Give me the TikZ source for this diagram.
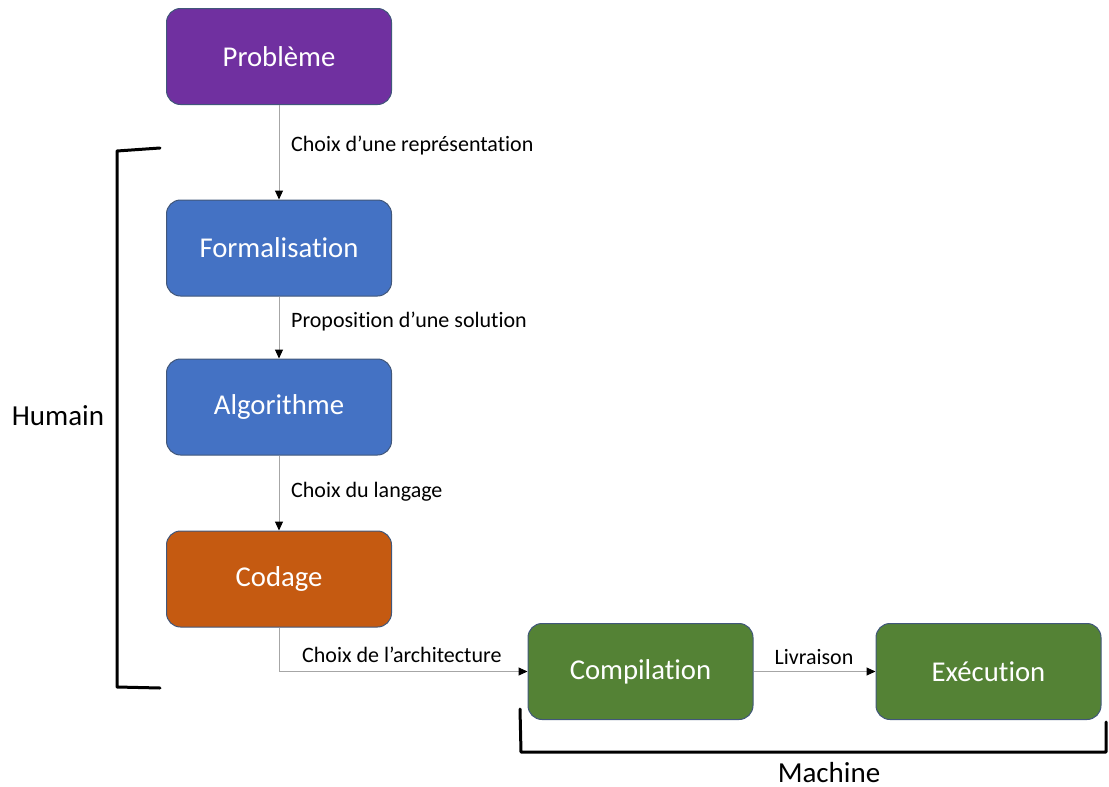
\documentclass[tikz,border=0pt]{standalone}
\usepackage{fontspec}
\setmainfont{Carlito}[RawFeature={-liga;-clig;-dlig}]
\usetikzlibrary{arrows.meta}
\definecolor{cpurple}{HTML}{7030A0}
\definecolor{cblue}{HTML}{4472C4}
\definecolor{corange}{HTML}{C55A11}
\definecolor{cgreen}{HTML}{548235}
\definecolor{boxline}{HTML}{41577A}
\definecolor{linegray}{HTML}{A6A6A6}
\begin{document}
\begin{tikzpicture}[x=1pt,y=-1pt,
  box/.style={draw=boxline, line width=1pt, rounded corners=14pt,
    minimum width=225pt, minimum height=96pt, inner sep=0pt,
    text=white, font=\fontsize{28.7}{34}\selectfont},
  conn/.style={draw=linegray, line width=1pt,
    -{Triangle[black,length=9pt,width=8pt]}},
  lbl/.style={font=\fontsize{22}{26}\selectfont, text=black, inner sep=0pt},
  brack/.style={line width=3pt, line join=round, line cap=round},
  side/.style={font=\fontsize{29}{34}\selectfont, inner sep=0pt, anchor=base}
]
\useasboundingbox (0,0) rectangle (1109,787);

\node[box, fill=cpurple] (pb) at (279,56.5) {Problème};
\node[box, fill=cblue] (fo) at (279,248) {Formalisation};
\node[box, fill=cblue] (al) at (279,407) {Algorithme};
\node[box, fill=corange] (co) at (279,579) {Codage};
\node[box, fill=cgreen] (cp) at (640.5,671.5) {Compilation};
\node[box, fill=cgreen] (ex) at (988.5,671.5) {Exécution};

\draw[conn] (pb) -- (fo);
\draw[conn] (fo) -- (al);
\draw[conn] (al) -- (co);
\draw[conn] (co) |- (cp);
\draw[conn] (cp) -- (ex);

\node[lbl, anchor=west] (l1) at (291,146) {Choix d’une représentation};
\node[lbl, anchor=west] (l2) at (291,322) {Proposition d’une solution};
\node[lbl, anchor=west] (l3) at (291,492) {Choix du langage};
\node[lbl, anchor=west] (l4) at (302,655) {Choix de l’architecture};
\node[lbl] (l5) at (814,657) {Livraison};

\coordinate (h1) at (160,148);
\coordinate (h2) at (117,151);
\coordinate (h3) at (117,687);
\coordinate (h4) at (160,688);
\draw[brack] (h1) -- (h2) -- (h3) -- (h4);
\node[side] (hu) at (58,425) {Humain};

\coordinate (m1) at (520,709);
\coordinate (m2) at (521,752);
\coordinate (m3) at (1106,752);
\coordinate (m4) at (1106,722);
\draw[brack] (m1) -- (m2) -- (m3) -- (m4);
\node[side] (ma) at (829,782) {Machine};
\end{tikzpicture}
\end{document}
